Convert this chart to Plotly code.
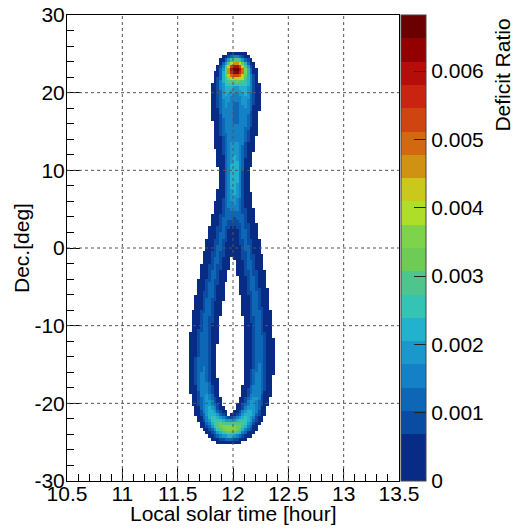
import numpy as np
import plotly.graph_objects as go

# ---- data: almanac table of the Sun at local noon (day of year, declination [deg], equation of time [min])
day_of_year = [1, 15, 32, 46, 60, 74, 91, 105, 121, 135, 152, 166,
               182, 196, 213, 227, 244, 258, 274, 288, 305, 319, 335, 349]
declination = [-23.0, -21.2, -17.2, -12.6, -7.7, -2.3, 4.4, 9.7, 15.0, 18.8, 22.0, 23.3,
               23.1, 21.6, 18.0, 14.1, 8.4, 3.1, -3.0, -8.5, -14.4, -18.5, -21.8, -23.3]
eq_of_time = [-3.3, -9.1, -13.5, -14.2, -12.4, -9.0, -4.0, -0.1, 2.9, 3.6, 2.2, -0.3,
              -3.6, -5.9, -6.4, -4.6, -0.1, 4.7, 10.2, 14.2, 16.4, 15.4, 11.0, 4.9]
peak_deficit = 0.0066          # maximum deficit ratio (top of analemma)
smear_sigma = 0.85             # angular resolution [deg]
smear_radius = 1.9             # window radius [deg]

x_ticks = [10.5, 11, 11.5, 12, 12.5, 13, 13.5]
x_ticklabels = ["10.5", "11", "11.5", "12", "12.5", "13", "13.5"]
y_ticks = [-30, -20, -10, 0, 10, 20, 30]
y_ticklabels = ["-30", "-20", "-10", "0", "10", "20", "30"]
cb_ticks = [0, 0.001, 0.002, 0.003, 0.004, 0.005, 0.006]
cb_ticklabels = ["0", "0.001", "0.002", "0.003", "0.004", "0.005", "0.006"]
z_max = 0.00682
level_colors = ["#082c86", "#082c86", "#0a4ca2", "#0d67b6", "#1480c6", "#1a98cb", "#22b2cd",
                "#35c3b4", "#4ec58c", "#6ecc56", "#7ed24c", "#aede2a", "#c9c81b", "#cf9212",
                "#d2680f", "#cf4512", "#c92410", "#b50e0a", "#920000", "#6b0000"]

# ---- daily Sun track from the almanac (periodic harmonic fit)
def design(w, n=4):
    cols = [np.ones_like(w)]
    for k in range(1, n + 1):
        cols += [np.cos(k * w), np.sin(k * w)]
    return np.stack(cols, 1)

w_tab = 2 * np.pi * np.array(day_of_year, float) / 365.25
c_dec = np.linalg.lstsq(design(w_tab), np.array(declination), rcond=None)[0]
c_eot = np.linalg.lstsq(design(w_tab), np.array(eq_of_time), rcond=None)[0]
days = np.arange(365) + 0.5
A = design(2 * np.pi * days / 365.25)
dec_day = A @ c_dec
time_day = 12 - (A @ c_eot) / 60.0

# ---- 2D histogram of the smeared deficit
xe = np.arange(10.5, 13.5 + 1e-9, 0.025)
ye = np.arange(-30, 30 + 1e-9, 0.4)
xc = 0.5 * (xe[:-1] + xe[1:])
yc = 0.5 * (ye[:-1] + ye[1:])
X, Y = np.meshgrid(xc, yc)
cosY = np.cos(np.radians(Y))
z = np.zeros_like(X)
for td, dd in zip(time_day, dec_day):
    dx = (X - td) * 15 * cosY
    dy = Y - dd
    r2 = dx * dx + dy * dy
    z += np.where(r2 < smear_radius ** 2, np.exp(-r2 / (2 * smear_sigma ** 2)), 0.0)
z = z / z.max() * peak_deficit
z[z <= 0] = np.nan

n = len(level_colors)
colorscale = []
for i, c in enumerate(level_colors):
    colorscale.append([i / n, c])
    colorscale.append([(i + 1) / n, c])

font = dict(family="Liberation Sans, Arial, sans-serif", size=21, color="black")

fig = go.Figure(go.Heatmap(
    x=xc, y=yc, z=z, zmin=0, zmax=z_max, colorscale=colorscale,
    hoverongaps=False,
    colorbar=dict(
        x=1.006, xanchor="left", xpad=0, y=0.5, yanchor="middle", ypad=0,
        len=1, lenmode="fraction", thickness=25, thicknessmode="pixels",
        outlinewidth=1, outlinecolor="#444",
        tickmode="array", tickvals=cb_ticks, ticktext=cb_ticklabels,
        ticks="inside", ticklen=12, tickcolor="#222", tickwidth=1,
        tickfont=font,
    ),
))

axis_common = dict(showline=True, mirror=True, linecolor="black", linewidth=1,
                   ticks="inside", tickcolor="black", tickwidth=1, ticklen=13,
                   showgrid=False, zeroline=False, tickfont=font, automargin=False,
                   ticklabeloverflow="allow")
fig.update_xaxes(range=[10.5, 13.5], tickmode="array", tickvals=x_ticks, ticktext=x_ticklabels,
                 ticklabelstandoff=-6,
                 minor=dict(ticks="inside", ticklen=7, tickcolor="black", dtick=0.1, tick0=10.5,
                            showgrid=False),
                 **axis_common)
fig.update_yaxes(range=[-30, 30], tickmode="array", tickvals=y_ticks, ticktext=y_ticklabels,
                 ticklabelstandoff=-3,
                 minor=dict(ticks="inside", ticklen=7, tickcolor="black", dtick=2, tick0=-30,
                            showgrid=False),
                 **axis_common)

shapes = []
for v in x_ticks[1:-1]:
    shapes.append(dict(type="line", xref="x", yref="paper", x0=v, x1=v, y0=0, y1=1,
                       line=dict(color="#555", width=1, dash="dot"), layer="above"))
for v in y_ticks[1:-1]:
    shapes.append(dict(type="line", xref="paper", yref="y", x0=0, x1=1, y0=v, y1=v,
                       line=dict(color="#555", width=1, dash="dot"), layer="above"))

annotations = [
    dict(text="Local solar time [hour]", xref="paper", yref="paper", x=0.5, y=-0.0687,
         xanchor="center", yanchor="middle", showarrow=False, font=font),
    dict(text="Dec.[deg]", xref="paper", yref="paper", x=-0.1386, y=0.5,
         xanchor="center", yanchor="middle", textangle=-90, showarrow=False, font=font),
    dict(text="Deficit Ratio", xref="paper", yref="paper", x=1.313, y=0.872,
         xanchor="center", yanchor="middle", textangle=-90, showarrow=False, font=font),
]

fig.update_layout(
    width=514, height=531, autosize=False,
    margin=dict(l=67, r=115, t=15, b=50, autoexpand=False),
    paper_bgcolor="white", plot_bgcolor="white",
    shapes=shapes, annotations=annotations, font=font,
)

fig.write_html("out.html", config={"displayModeBar": False},
               post_script="document.body.style.margin='0px';")
